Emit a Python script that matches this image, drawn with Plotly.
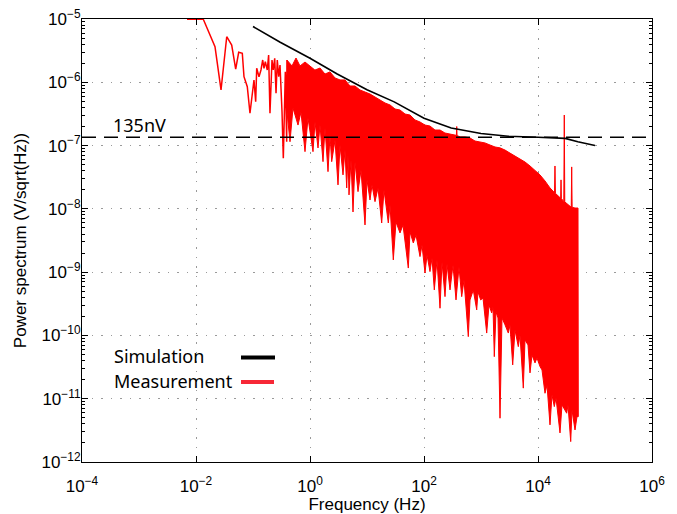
import plotly.graph_objects as go

# ---------------- data ----------------
# Simulation (black curve)
sim_f = [0.1, 0.3, 1, 3, 10, 30, 100, 300, 1000, 3000, 10000, 30000, 50000, 100000]
sim_v = [7.6e-6, 4.3e-6, 2.4e-6, 1.35e-6, 7.6e-7, 4.9e-7, 2.7e-7, 1.9e-7, 1.55e-7,
         1.4e-7, 1.35e-7, 1.3e-7, 1.15e-7, 1.0e-7]

# Measurement, sparse low-frequency part (individual FFT bins)
meas_low_f = [0.00695, 0.01343, 0.02154, 0.02748, 0.0346, 0.0423, 0.0497, 0.0561, 0.0649,
              0.0695, 0.0794, 0.0885, 0.104, 0.1114, 0.1161, 0.1274, 0.138, 0.148, 0.156,
              0.1644, 0.178, 0.188, 0.1986, 0.2154, 0.227, 0.2404, 0.2535, 0.2667, 0.2825,
              0.2977, 0.3228, 0.3404, 0.369, 0.39]
meas_low_v = [9.9e-6, 9.9e-6, 3.65e-6, 7.56e-7, 5.25e-6, 3.88e-6, 1.62e-6, 2.98e-6, 2.87e-6,
              1.226e-6, 8.52e-7, 3.24e-7, 1.087e-6, 4.94e-7, 1.664e-6, 1.226e-6, 1.564e-6,
              2.25e-6, 1.664e-6, 2.116e-6, 1.564e-6, 2.70e-6, 3.24e-7, 2.25e-6, 1.564e-6,
              2.39e-6, 6.7e-7, 2.25e-6, 1.226e-6, 1.877e-6, 3.43e-7, 6.3e-8, 1.47e-6, 1.15e-7]

# Measurement, dense part: upper envelope (incl. the isolated upward spikes)
meas_top_f = [0.394, 0.483, 0.568, 0.668, 0.817, 1.0, 1.22, 1.50, 1.83, 2.24, 2.75, 3.36,
              4.11, 5.04, 6.15, 7.53, 9.23, 11.3, 13.8, 16.9, 20.7, 25.4, 31.0, 37.9, 46.5,
              56.8, 69.5, 85.1, 104, 127, 156, 191, 233, 286, 350, 370, 375, 380, 429, 524,
              641, 785, 959, 1175, 1439, 1762, 2153, 2636, 3228, 3945, 4831, 5916, 7244,
              8851, 10840, 13270, 16260, 19500, 19860, 20200, 24320, 25000, 25350, 25700,
              28350, 28920, 29500, 36390, 38300, 39000, 39700, 44570, 50350]
meas_top_v = [2.25e-6, 1.81e-6, 2.42e-6, 1.81e-6, 2.09e-6, 1.81e-6, 1.56e-6, 1.68e-6,
              1.35e-6, 1.46e-6, 1.17e-6, 1.09e-6, 1.09e-6, 8.74e-7, 8.74e-7, 7.56e-7,
              7.03e-7, 6.53e-7, 5.86e-7, 5.25e-7, 4.71e-7, 4.38e-7, 3.78e-7, 3.65e-7,
              3.15e-7, 3.04e-7, 2.54e-7, 2.36e-7, 2.11e-7, 2.04e-7, 1.76e-7, 1.76e-7,
              1.58e-7, 1.52e-7, 1.47e-7, 1.45e-7, 2.0e-7, 1.44e-7, 1.37e-7, 1.37e-7,
              1.32e-7, 1.18e-7, 1.14e-7, 1.10e-7, 1.02e-7, 9.5e-8, 9.2e-8, 8.5e-8, 7.6e-8,
              6.85e-8, 6.14e-8, 5.5e-8, 4.76e-8, 4.12e-8, 3.44e-8, 2.76e-8, 2.14e-8,
              1.8e-8, 4.76e-8, 1.76e-8, 1.49e-8, 1.47e-8, 2.87e-8, 1.46e-8,
              1.3e-8, 3.04e-7, 1.29e-8, 1.07e-8, 1.06e-8, 4.6e-8, 1.06e-8, 1.03e-8, 1.03e-8]

# Measurement, dense part: lower edge (body and downward spikes)
meas_bot_f = [0.395, 0.4457, 0.503, 0.616, 0.695, 0.817, 0.922, 1.129, 1.224, 1.382, 1.497,
              1.691, 1.833, 2.069, 2.243, 2.403, 2.746, 3.099, 3.360, 3.793, 4.112, 4.405,
              4.642, 4.833, 5.242, 5.680, 6.158, 6.952, 7.848, 9.224, 10.0, 11.29, 12.24,
              13.82, 15.60, 18.11, 19.87, 23.64, 25.33, 28.93, 32.27, 37.93, 42.81, 53.04,
              56.81, 64.91, 72.38, 85.08, 92.24, 104.1, 112.9, 127.4, 138.2, 151.6, 169.1,
              190.9, 206.9, 233.6, 253.2, 285.9, 322.8, 364.3, 411.2, 458.6, 503.2, 561.3,
              598.7, 641.2, 732.5, 840.8, 886.1, 987.9, 1084, 1259, 1382, 1541, 1624, 1712,
              1833, 1987, 2154, 2336, 2637, 3013, 3228, 3598, 3949, 4512, 4832, 5523, 5915,
              6677, 7238, 7848, 8860, 9605, 10840, 11760, 13270, 14390, 16240, 17600,
              19320, 20700, 24320, 26370, 31880, 33600, 37480, 39490, 44580, 48330, 50930]
meas_bot_v = [3.40e-7, 1.15e-7, 3.93e-7, 2.11e-7, 3.40e-7, 8.01e-8, 2.73e-7, 8.01e-8,
              2.36e-7, 9.16e-8, 2.11e-7, 5.57e-8, 1.90e-7, 3.87e-8, 1.47e-7, 5.57e-8,
              1.22e-7, 2.39e-8, 1.02e-7, 3.44e-8, 8.51e-8, 2.14e-8, 7.11e-8, 1.66e-8,
              5.93e-8, 8.93e-9, 5.51e-8, 1.87e-8, 4.12e-8, 5.57e-9, 2.86e-8, 1.38e-8,
              2.39e-8, 1.30e-8, 2.14e-8, 5.98e-9, 1.99e-8, 5.98e-9, 1.15e-8, 1.56e-9,
              6.21e-9, 4.16e-9, 5.57e-9, 1.16e-9, 4.32e-9, 2.89e-9, 3.87e-9, 1.76e-9,
              2.69e-9, 9.70e-10, 1.87e-9, 1.02e-9, 1.68e-9, 5.24e-10, 1.56e-9, 2.69e-10,
              1.45e-9, 4.10e-10, 1.35e-9, 5.24e-10, 1.30e-9, 3.64e-10, 1.21e-9, 4.10e-10,
              7.53e-10, 2.27e-10, 9.57e-11, 3.64e-10, 5.24e-10, 2.53e-10, 4.87e-10,
              3.64e-10, 3.91e-10, 1.09e-10, 3.03e-10, 2.27e-10, 2.82e-10, 4.62e-11,
              2.35e-10, 1.89e-10, 4.92e-12, 1.89e-10, 1.47e-10, 1.09e-10, 1.47e-10,
              3.42e-11, 1.22e-10, 6.65e-11, 1.02e-10, 1.47e-11, 8.49e-11, 7.08e-11,
              2.56e-11, 4.92e-11, 3.68e-11, 4.41e-11, 3.22e-11, 2.85e-11, 1.22e-11,
              1.65e-11, 3.86e-12, 1.15e-11, 7.50e-12, 1.03e-11, 2.88e-12, 7.98e-12,
              5.90e-12, 7.98e-12, 2.10e-12, 6.65e-12, 3.21e-12, 5.21e-12, 5.21e-12]

noise_floor = 1.35e-7
noise_label = "135nV"
x_range_f = [1e-4, 1e6]

x_tickvals = [1e-4, 1e-2, 1e0, 1e2, 1e4, 1e6]
x_ticktext = ["10<sup>\u22124</sup>", "10<sup>\u22122</sup>", "10<sup>0</sup>",
              "10<sup>2</sup>", "10<sup>4</sup>", "10<sup>6</sup>"]
y_tickvals = [1e-12, 1e-11, 1e-10, 1e-9, 1e-8, 1e-7, 1e-6, 1e-5]
y_ticktext = ["10<sup>\u2212%d</sup>" % e for e in [12, 11, 10, 9, 8, 7, 6, 5]]

legend_names = ["Simulation", "Measurement"]
# ------------------------------------------------------------------------

RED = "#ff0000"
fig = go.Figure()

# dense measurement block as a filled outline
fig.add_trace(go.Scatter(
    x=meas_top_f + meas_bot_f[::-1], y=meas_top_v + meas_bot_v[::-1],
    mode="lines", fill="toself", fillcolor=RED,
    line=dict(color=RED, width=1), hoverinfo="skip", showlegend=False))
# sparse low-frequency measurement line
fig.add_trace(go.Scatter(
    x=meas_low_f + [meas_top_f[0]], y=meas_low_v + [meas_top_v[0]],
    mode="lines", line=dict(color=RED, width=1.5), showlegend=False))
# simulation
fig.add_trace(go.Scatter(x=sim_f, y=sim_v, mode="lines",
                         line=dict(color="black", width=1.6), showlegend=False))
# noise floor
fig.add_trace(go.Scatter(x=x_range_f, y=[noise_floor, noise_floor], mode="lines",
                         line=dict(color="black", width=1.6, dash="14px,8px"),
                         showlegend=False))

L, R, T, B = 82, 25, 19, 52
W, H = 677, 514
pw, ph = W - L - R, H - T - B


def px(x):
    return (x - L) / pw


def py(y):
    return (H - B - y) / ph


minor_y = [k * 10.0 ** e for e in range(-12, -5) for k in range(2, 10)]

tick_font = dict(family="Liberation Sans, Arial", size=17, color="black")
title_font = dict(family="Liberation Sans, Arial", size=17, color="black")
grid = dict(showgrid=True, gridcolor="#9a9a9a", gridwidth=1, griddash="1.5px,8px")

fig.update_xaxes(type="log", range=[-4, 6], tickvals=x_tickvals, ticktext=x_ticktext,
                 ticks="inside", ticklen=6, tickwidth=1, tickcolor="black",
                 showline=True, linecolor="black", linewidth=1, mirror="ticks",
                 zeroline=False, tickfont=tick_font, ticklabelstandoff=9,
                 automargin=False,
                 title=dict(text="Frequency (Hz)", font=title_font, standoff=0), **grid)
fig.update_yaxes(type="log", range=[-12, -5], tickvals=y_tickvals, ticktext=y_ticktext,
                 ticks="inside", ticklen=6, tickwidth=1, tickcolor="black",
                 minor=dict(tickvals=minor_y, ticks="inside", ticklen=3,
                            tickcolor="black", showgrid=False),
                 showline=True, linecolor="black", linewidth=1, mirror="ticks",
                 zeroline=False, tickfont=tick_font, ticklabelstandoff=-3,
                 automargin=False,
                 title=dict(text="Power spectrum (V/sqrt(Hz))", font=title_font, standoff=10),
                 **grid)

label_font = dict(family="Noto Sans", size=18, color="black")
shapes = [
    # legend background box (hides grid)
    dict(type="rect", xref="paper", yref="paper", x0=px(98), x1=px(295), y0=py(412),
         y1=py(330), fillcolor="white", line=dict(width=0), layer="between"),
    dict(type="line", xref="paper", yref="paper", x0=px(241), x1=px(275), y0=py(357.5),
         y1=py(357.5), line=dict(color="black", width=4)),
    dict(type="line", xref="paper", yref="paper", x0=px(241), x1=px(274), y0=py(382),
         y1=py(382), line=dict(color="#f72836", width=4)),
]
annotations = [
    dict(text=noise_label, xref="paper", yref="paper", x=px(111), y=py(125),
         xanchor="left", yanchor="middle", showarrow=False, font=label_font),
    dict(text=legend_names[0], xref="paper", yref="paper", x=px(112), y=py(356),
         xanchor="left", yanchor="middle", showarrow=False, font=label_font),
    dict(text=legend_names[1], xref="paper", yref="paper", x=px(112), y=py(381),
         xanchor="left", yanchor="middle", showarrow=False, font=label_font),
]

fig.update_layout(width=W, height=H, margin=dict(l=L, r=R, t=T, b=B, autoexpand=False),
                  paper_bgcolor="white", plot_bgcolor="white",
                  shapes=shapes, annotations=annotations, showlegend=False)

fig.write_html("out.html")
